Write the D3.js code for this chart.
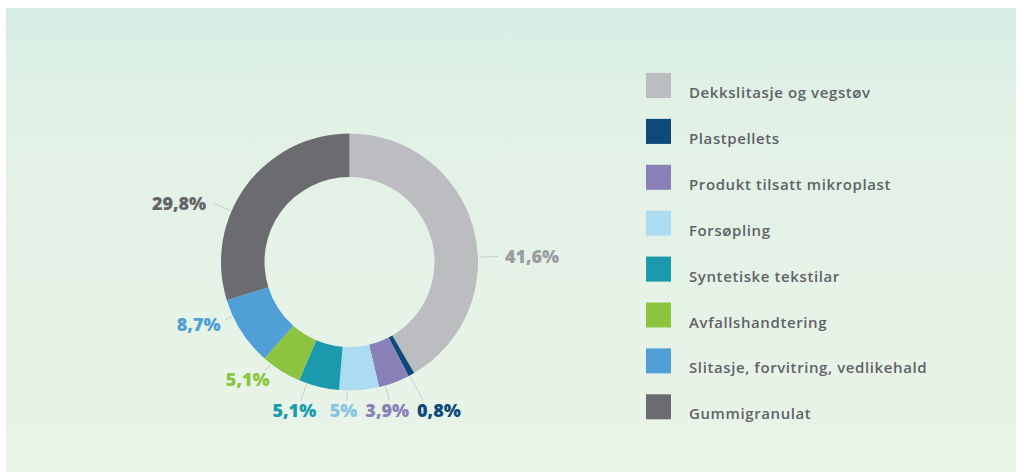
<!DOCTYPE html>
<html>
<head>
<meta charset="utf-8">
<script src="https://cdn.jsdelivr.net/npm/d3@7"></script>
<style>
  html, body { margin: 0; padding: 0; background: #ffffff; }
  svg { display: block; }
</style>
</head>
<body>
<svg id="chart" width="1024" height="475"></svg>
<script>
// ---- data ----
const categories = [
  "Dekkslitasje og vegstøv",
  "Plastpellets",
  "Produkt tilsatt mikroplast",
  "Forsøpling",
  "Syntetiske tekstilar",
  "Avfallshandtering",
  "Slitasje, forvitring, vedlikehald",
  "Gummigranulat"
];
const values = [41.6, 0.8, 3.9, 5, 5.1, 5.1, 8.7, 29.8];
const valueLabels = ["41,6%", "0,8%", "3,9%", "5%", "5,1%", "5,1%", "8,7%", "29,8%"];

// ---- styles ----
const sliceColors = ["#bcbdc0", "#0d4a7c", "#8a80b8", "#abdcf1", "#1b9aad", "#8cc33f", "#509fd7", "#6b6c70"];
const labelColors = ["#9c9da0", "#0d4a7c", "#8a80b8", "#86c5e0", "#1b9aad", "#8cc33f", "#509fd7", "#646569"];

const svg = d3.select("#chart");

// background panel
const defs = svg.append("defs");
const grad = defs.append("linearGradient").attr("id", "bg").attr("x1", 0).attr("y1", 0).attr("x2", 0).attr("y2", 1);
grad.append("stop").attr("offset", "0%").attr("stop-color", "#d6ede4");
grad.append("stop").attr("offset", "22%").attr("stop-color", "#e2f1e6");
grad.append("stop").attr("offset", "100%").attr("stop-color", "#e9f4e7");
svg.append("rect").attr("x", 6).attr("y", 8).attr("width", 1010).attr("height", 464).attr("fill", "url(#bg)");

// donut
const cx = 349.5, cy = 262, outerR = 128.5, innerR = 85;
const color = d3.scaleOrdinal().domain(categories).range(sliceColors);
const lblColor = d3.scaleOrdinal().domain(categories).range(labelColors);

const pie = d3.pie().sort(null).value(d => d.v);
const arcs = pie(categories.map((c, i) => ({ c, v: values[i], t: valueLabels[i] })));
const arc = d3.arc().innerRadius(innerR).outerRadius(outerR);

const g = svg.append("g").attr("transform", `translate(${cx},${cy})`);
g.selectAll("path.slice").data(arcs).join("path")
  .attr("class", "slice")
  .attr("d", arc)
  .attr("fill", d => color(d.data.c));

// label layout
const deg = Math.PI / 180;
function leaderInfo(d) {
  const mid = (d.startAngle + d.endAngle) / 2;
  const span = d.endAngle - d.startAngle;
  if (Math.cos(mid) > 0) {
    // upper half: pull toward the horizontal, longer leader, text beside it
    const target = mid < Math.PI ? Math.PI / 2 : 3 * Math.PI / 2;
    const step = Math.min(13 * deg, Math.abs(target - mid));
    return { a: mid + Math.sign(target - mid) * step, len: 20, side: true };
  }
  return { a: Math.min(mid + 8 * deg, d.endAngle - 0.2 * span), len: 9, side: false };
}
const pt = (a, r) => [r * Math.sin(a), -r * Math.cos(a)];

const fs = 18, capH = fs * 0.714;
const labels = arcs.map(d => {
  const info = leaderInfo(d);
  return Object.assign({ d }, info, { p0: pt(info.a, outerR + 1), p1: pt(info.a, outerR + info.len) });
});

const leaderG = g.append("g");
const texts = g.selectAll("text.val").data(labels).join("text")
  .attr("class", "val")
  .attr("text-anchor", "middle")
  .attr("font-family", "'Open Sans', sans-serif")
  .attr("font-weight", 800)
  .attr("font-size", fs)
  .attr("fill", l => lblColor(l.d.data.c))
  .text(l => l.d.data.t);

texts.each(function (l) {
  l.w = this.getComputedTextLength();
  l.ux = Math.sin(l.a); l.uy = -Math.cos(l.a);
  if (l.side) {
    l.x = l.p1[0] + Math.sign(l.ux) * (l.w / 2 + 7);
    l.y = l.p1[1];
  } else {
    l.x = l.p1[0] + l.ux * (l.w / 2 + 7);
    l.y = l.p1[1] + l.uy * (capH / 2 + 5);
  }
});

// labels right under the ring share one row
const row = labels.filter(l => !l.side && l.uy > 0.85);
const rowY = d3.max(row, l => l.y);
row.forEach(l => {
  l.y = rowY;
  const r = (rowY - capH / 2 - 4) / l.uy;
  if (r > outerR + l.len) l.p1 = pt(l.a, r);
});

// relax horizontal overlaps among labels below the ring
const bottom = labels.filter(l => !l.side).sort((a, b) => a.x - b.x);
for (let pass = 0; pass < 30; pass++) {
  for (let i = 1; i < bottom.length; i++) {
    const p = bottom[i - 1], c = bottom[i];
    if (Math.abs(p.y - c.y) < capH + 2) {
      const overlap = (p.x + p.w / 2 + 8) - (c.x - c.w / 2);
      if (overlap > 0) { p.x -= overlap / 2; c.x += overlap / 2; }
    }
  }
}

texts.attr("x", l => l.x).attr("y", l => l.y + capH / 2);

leaderG.selectAll("line").data(labels).join("line")
  .attr("x1", l => l.p0[0]).attr("y1", l => l.p0[1])
  .attr("x2", l => l.p1[0]).attr("y2", l => l.p1[1])
  .attr("stroke", "#c9ccc9").attr("stroke-width", 1);

// legend
const rowH = 45.9, legX = 646, legY = 73, sw = 25;
const rows = svg.append("g").selectAll("g.row").data(categories).join("g")
  .attr("class", "row")
  .attr("transform", (c, i) => `translate(${legX},${legY + i * rowH})`);
rows.append("rect").attr("width", sw).attr("height", sw).attr("fill", c => color(c));
rows.append("text")
  .attr("x", 43).attr("y", 25)
  .attr("font-family", "'Open Sans', sans-serif")
  .attr("font-weight", 600)
  .attr("font-size", 15)
  .attr("letter-spacing", 0.6)
  .attr("fill", "#5f6266")
  .text(c => c);
</script>
</body>
</html>
